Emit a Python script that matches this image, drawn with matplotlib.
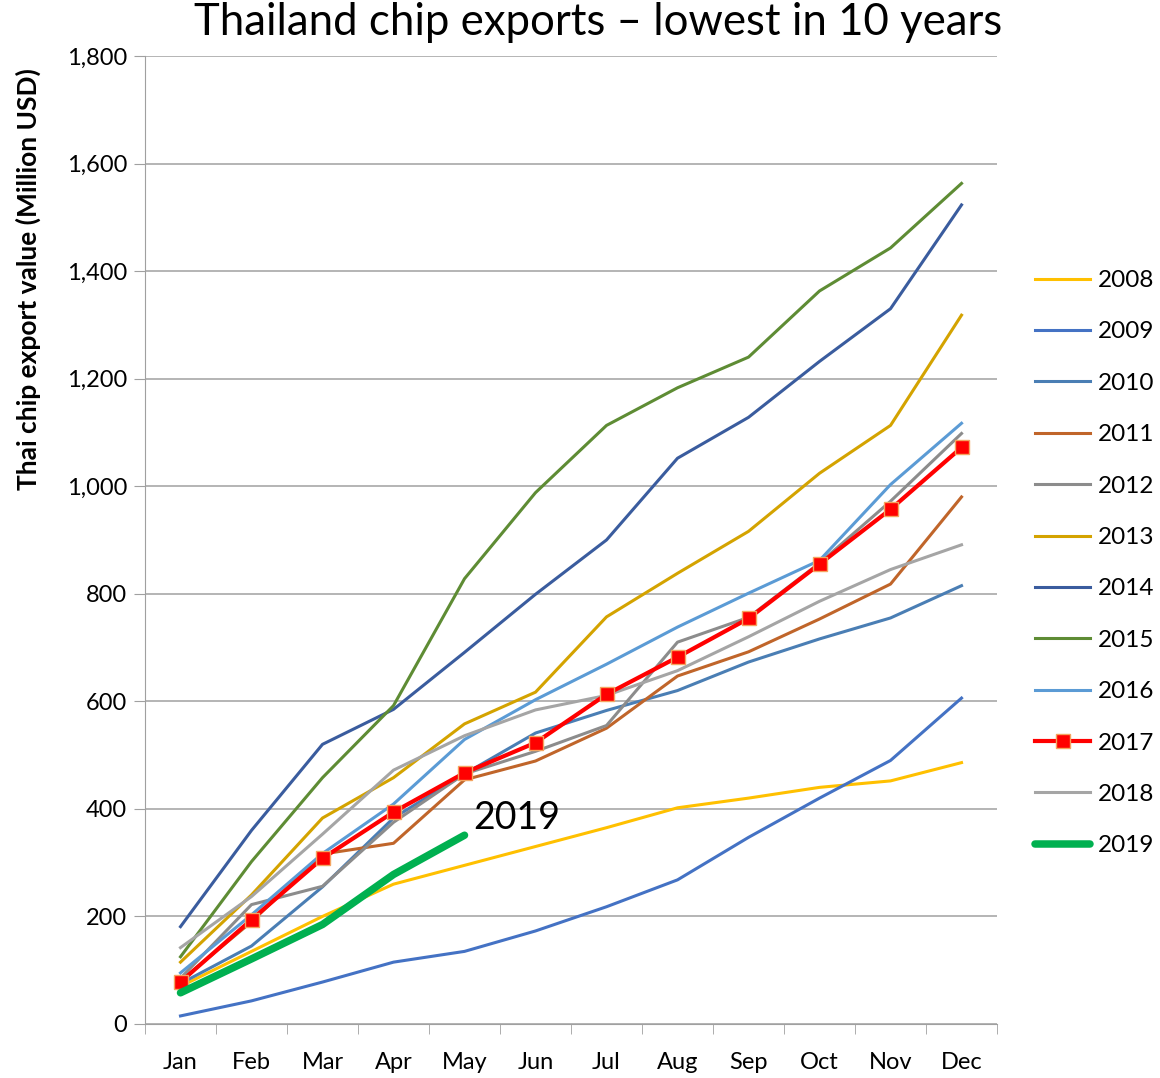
import numpy as np
import matplotlib.pyplot as plt
from matplotlib.ticker import FuncFormatter, FixedLocator

plt.rcParams['font.family'] = ['Lato', 'DejaVu Sans']

months = ['Jan', 'Feb', 'Mar', 'Apr', 'May', 'Jun',
          'Jul', 'Aug', 'Sep', 'Oct', 'Nov', 'Dec']

# cumulative export value, million USD
y2008 = [70, 135, 200, 260, 295, 330, 365, 402, 420, 440, 452, 486]
y2009 = [15, 43, 78, 115, 135, 173, 218, 268, 347, 420, 490, 606]
y2010 = [75, 145, 255, 383, 465, 541, 583, 620, 673, 716, 755, 815]
y2011 = [80, 190, 316, 336, 454, 489, 550, 647, 692, 753, 818, 980]
y2012 = [85, 222, 256, 375, 465, 507, 555, 710, 756, 857, 972, 1098]
y2013 = [115, 240, 383, 458, 558, 617, 757, 838, 916, 1024, 1113, 1318]
y2014 = [181, 360, 520, 585, 691, 799, 900, 1052, 1128, 1232, 1330, 1523]
y2015 = [125, 302, 458, 592, 828, 988, 1113, 1183, 1240, 1363, 1443, 1563]
y2016 = [95, 203, 317, 409, 529, 603, 669, 738, 801, 862, 1003, 1117]
y2017 = [78, 194, 308, 394, 467, 523, 613, 682, 754, 855, 957, 1072]
y2018 = [142, 237, 353, 472, 536, 584, 611, 657, 720, 786, 845, 891]
y2019 = [58, 121, 185, 278, 351]

series = [('2008', y2008, '#FFC000'),
          ('2009', y2009, '#4472C4'),
          ('2010', y2010, '#4A7EB4'),
          ('2011', y2011, '#C0652A'),
          ('2012', y2012, '#8C8C8C'),
          ('2013', y2013, '#D4A300'),
          ('2014', y2014, '#3A5C9E'),
          ('2015', y2015, '#5E8C34'),
          ('2016', y2016, '#5B9BD5'),
          ('2017', y2017, '#FF0000'),
          ('2018', y2018, '#A5A5A5'),
          ('2019', y2019, '#00B050')]

fig = plt.figure(figsize=(11.6, 10.78), dpi=100)
ax = fig.add_axes([0.125, 0.0501, 0.7345, 0.898])

x = np.arange(len(months))
for name, vals, col in series:
    xs = x[:len(vals)]
    if name == '2017':
        ax.plot(xs, vals, color=col, lw=3.0, marker='s', markersize=10.5,
                markerfacecolor='#FF0000', markeredgecolor='#F4A460',
                markeredgewidth=1.0, label=name, zorder=4)
    elif name == '2019':
        ax.plot(xs, vals, color=col, lw=5.4, solid_capstyle='round',
                label=name, zorder=5)
    else:
        ax.plot(xs, vals, color=col, lw=2.2, label=name, zorder=3)

ax.text(x[4] + 0.13, y2019[-1] - 2, '2019', fontsize=27, ha='left',
        va='bottom', color='black')

ax.set_xlim(-0.5, 11.5)
ax.set_ylim(0, 1800)
ax.set_yticks(np.arange(0, 1801, 200))
ax.yaxis.set_major_formatter(FuncFormatter(lambda v, p: '{:,.0f}'.format(v)))
ax.grid(axis='y', color='#A0A0A0', lw=1.1, zorder=0)
ax.set_xticks(x)
ax.set_xticklabels(months)
ax.xaxis.set_minor_locator(FixedLocator(np.arange(-0.5, 12, 1)))
ax.tick_params(axis='x', which='major', length=0, pad=20, labelsize=17)
ax.tick_params(axis='x', which='minor', length=7, color='#A0A0A0', direction='out')
ax.tick_params(axis='y', length=8, color='#A0A0A0', labelsize=17, pad=5)

for s in ['top', 'right']:
    ax.spines[s].set_visible(False)
ax.spines['left'].set_color('#A0A0A0')
ax.spines['bottom'].set_color('#A0A0A0')

fig.text(28 / 1160, 1 - 279 / 1078, 'Thai chip export value (Million USD)',
         fontsize=19, fontweight='bold', rotation=90, ha='center', va='center')
fig.suptitle('Thailand chip exports \u2013 lowest in 10 years', fontsize=31.5,
             x=0.516, y=0.998, va='top')

ax.legend(loc='center left', bbox_to_anchor=(1.045, 0.476), frameon=False,
          fontsize=17.5, handlelength=2.26, handletextpad=0.3,
          labelspacing=1.25, borderaxespad=0, borderpad=0)

plt.savefig('out.png', dpi=100)
